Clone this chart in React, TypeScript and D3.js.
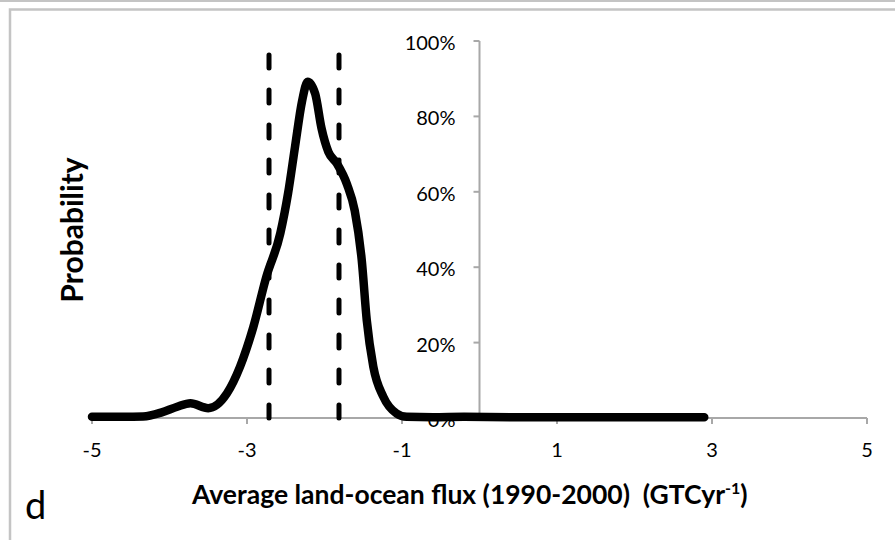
import React from "react";
import * as d3 from "d3";

// Probability density of the average land-ocean flux, 1990-2000
const fluxX = [
  -5.0, -4.6, -4.34, -4.1, -3.9, -3.73, -3.5, -3.26, -3.09, -2.92, -2.75, -2.57,
  -2.47, -2.38, -2.29, -2.217, -2.12, -2.04, -1.95, -1.84, -1.71, -1.61, -1.52,
  -1.455, -1.37, -1.24, -1.07, -0.94, -0.6, -0.2, 0.4, 1.2, 2.0, 2.9,
];
const probY = [
  0.003, 0.003, 0.004, 0.015, 0.03, 0.039, 0.026, 0.065, 0.136, 0.24, 0.375, 0.49,
  0.596, 0.72, 0.84, 0.892, 0.86, 0.77, 0.706, 0.675, 0.62, 0.55, 0.42,
  0.26, 0.136, 0.056, 0.012, 0.003, 0.002, 0.003, 0.002, 0.002, 0.002, 0.002,
];

// 90% interval bounds (dashed verticals)
const boundsX = [-2.716, -1.813];

const xTicks = [-5, -3, -1, 1, 3, 5];
const yTicks = [0, 0.2, 0.4, 0.6, 0.8, 1.0];

const xTitle = "Average land-ocean flux (1990-2000)\u00a0\u00a0(GTCyr";
const yTitle = "Probability";
const panelLabel = "d";

const W = 895;
const H = 540;
const FONT = "Lato, 'Open Sans', sans-serif";
const GREY = "#a8a8a8";

export default function App() {
  const x = d3.scaleLinear().domain([-5, 5]).range([92, 867]);
  const y = d3.scaleLinear().domain([0, 1]).range([418, 41]);

  const pts: [number, number][] = fluxX.map((v, i) => [v, probY[i]]);
  const line = d3
    .line<[number, number]>()
    .x((d) => x(d[0]))
    .y((d) => y(d[1]))
    .curve(d3.curveMonotoneX);

  const x0 = x(0);
  const y0 = y(0);
  const pct = d3.format(".0%");

  return (
    <svg
      width={W}
      height={H}
      style={{ position: "absolute", left: 0, top: 0, background: "#fff" }}
      fontFamily={FONT}
    >
      <rect x={0} y={0} width={W} height={H} fill="#fff" />
      {/* frame */}
      <line x1={0} x2={W} y1={1} y2={1} stroke="#c4c4c4" strokeWidth={2} />
      <path d={`M10,${H} V9.5 H${W}`} fill="none" stroke="#c4c4c4" strokeWidth={2.5} />

      {/* y axis at x = 0 */}
      <line x1={x0} x2={x0} y1={y(1)} y2={y0} stroke={GREY} strokeWidth={2} />
      {yTicks.map((t) => (
        <g key={"y" + t}>
          <line x1={x0 - 6} x2={x0} y1={y(t)} y2={y(t)} stroke={GREY} strokeWidth={2} />
          <text
            x={x0 - 24}
            y={y(t) + 4}
            textAnchor="end"
            dominantBaseline="middle"
            fontSize={20}
            fill="#000"
          >
            {pct(t)}
          </text>
        </g>
      ))}

      {/* x axis at y = 0 */}
      <line x1={x(-5)} x2={x(5)} y1={y0} y2={y0} stroke={GREY} strokeWidth={2} />
      {xTicks.map((t) => (
        <g key={"x" + t}>
          <line x1={x(t)} x2={x(t)} y1={y0} y2={y0 + 6} stroke={GREY} strokeWidth={2} />
          <text
            x={x(t)}
            y={452}
            textAnchor="middle"
            dominantBaseline="middle"
            fontSize={20}
            fill="#000"
          >
            {t}
          </text>
        </g>
      ))}

      {/* dashed interval bounds */}
      {boundsX.map((b) => (
        <line
          key={"b" + b}
          x1={x(b)}
          x2={x(b)}
          y1={55}
          y2={y0}
          stroke="#000"
          strokeWidth={5}
          strokeDasharray="13 22"
          strokeLinecap="round"
        />
      ))}

      {/* density curve */}
      <path
        d={line(pts) || ""}
        fill="none"
        stroke="#000"
        strokeWidth={8.5}
        strokeLinejoin="round"
        strokeLinecap="round"
      />

      {/* titles */}
      <text
        transform={`translate(${83},${230}) rotate(-90)`}
        textAnchor="middle"
        fontSize={30}
        fontWeight="bold"
        fill="#000"
      >
        {yTitle}
      </text>
      <text x={192} y={504} fontSize={26.5} fontWeight="bold" fill="#000">
        {xTitle}
        <tspan fontSize={16} dy={-10}>-1</tspan>
        <tspan dy={10}>)</tspan>
      </text>
      <text x={25} y={519} fontSize={38} fill="#000">
        {panelLabel}
      </text>
    </svg>
  );
}
